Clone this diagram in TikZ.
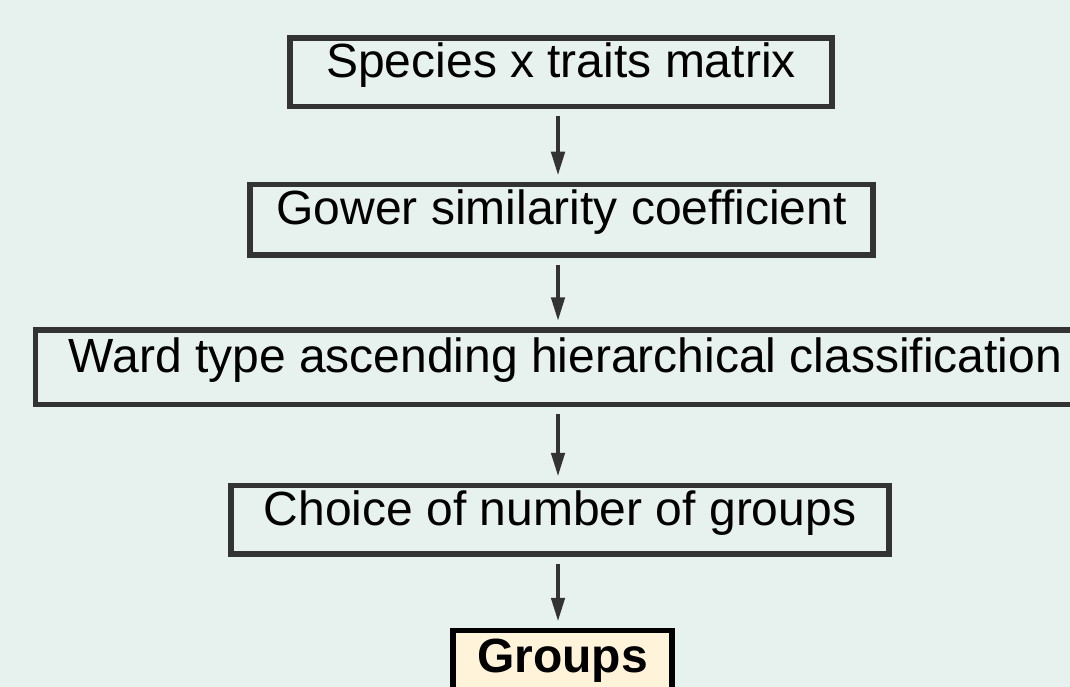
\documentclass[tikz,border=0pt]{standalone}
\usepackage{fontspec}
\setmainfont{Liberation Sans}
\usetikzlibrary{arrows.meta}
\definecolor{bgc}{RGB}{231,241,238}
\definecolor{edgec}{RGB}{51,51,51}
\definecolor{groupfill}{RGB}{255,243,217}
\tikzset{
  stepbox/.style={draw=edgec, line width=5.5pt, rectangle, inner sep=0pt, anchor=base,
    font=\fontsize{48pt}{58pt}\selectfont, text=black},
  finalbox/.style={stepbox, draw=black, fill=groupfill, font=\fontsize{48pt}{58pt}\selectfont\bfseries},
  flowarrow/.style={draw=edgec, line width=4.5pt, -{Triangle[width=13pt,length=24pt]},
    shorten <=7pt, shorten >=6pt}
}
\begin{document}
\begin{tikzpicture}[x=1pt,y=-1pt]
\useasboundingbox[fill=bgc] (0,0) rectangle (1070,687);
\coordinate (ax) at (558,0);
\node[stepbox, minimum width=542pt, text height=40pt, text depth=28.5pt] (species) at (561,78) {Species x traits matrix};
\node[stepbox, minimum width=623pt, text height=40pt, text depth=30.5pt] (gower) at (561.5,224.5) {Gower similarity coefficient};
\node[stepbox, minimum width=1060pt, text height=42pt, text depth=32.5pt] (ward) at (565.5,372) {Ward type ascending hierarchical classification};
\node[stepbox, minimum width=658pt, text height=40pt, text depth=28.5pt] (choice) at (560,525.5) {Choice of number of groups};
\node[finalbox, minimum width=219pt, text height=41.5pt, text depth=40pt] (groups) at (562.5,672) {Groups};
\draw[flowarrow] (species.south -| ax) -- (gower.north -| ax);
\draw[flowarrow] (gower.south -| ax) -- (ward.north -| ax);
\draw[flowarrow] (ward.south -| ax) -- (choice.north -| ax);
\draw[flowarrow] (choice.south -| ax) -- (groups.north -| ax);
\end{tikzpicture}
\end{document}
